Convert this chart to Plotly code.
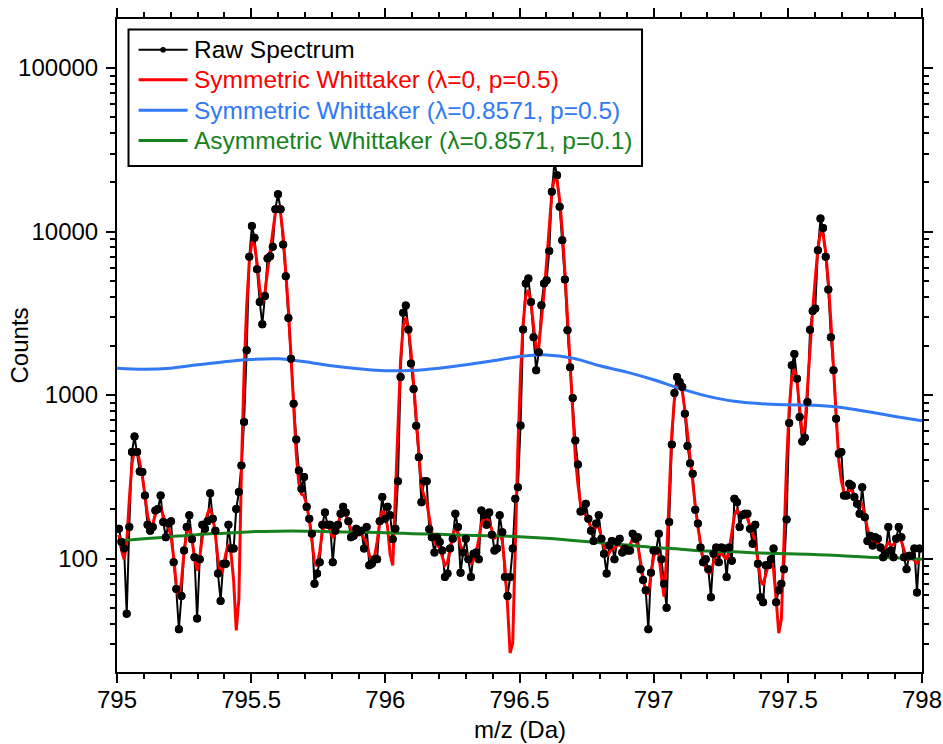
import numpy as np
import plotly.graph_objects as go

# ---- Raw spectrum: evenly sampled m/z axis, intensities in counts ----
MZ_START = 795.007
MZ_STEP = 0.00972

counts = [
    152, 126, 115, 46, 156, 448, 558, 448, 341, 338, 243, 161, 148, 156, 197, 201, 243, 167,
    135, 164, 169, 95, 65, 37, 59, 112, 156, 184, 131, 102, 43, 99, 161, 152, 169, 251,
    175, 148, 81, 55, 93, 93, 161, 115, 115, 201, 255, 371, 684, 1880, 7000, 10800, 9160, 5890,
    3710, 2710, 4040, 6840, 7070, 8060, 13700, 16900, 13700, 8340, 5330, 2960, 1670, 886, 535,
    346, 267, 315, 207, 175, 142, 70,
    81, 95, 161, 191, 161, 161, 95, 148, 161, 188, 207, 191, 169, 135, 138, 152, 145, 148,
    115, 156, 91, 93, 99, 99, 169, 238, 175, 207, 184, 131, 152, 297, 1290, 3190, 3530, 2520, 1560,
    1090, 649, 417, 221, 297, 297, 151, 135, 109, 135, 126, 112, 77, 81, 115, 132, 188, 156,
    82, 109, 132, 99, 77, 107, 109, 99, 197, 184, 161, 191, 140, 112, 115, 184, 145, 77, 59, 77,
    115, 232,
    273, 652, 2520, 4810, 5160, 3710, 2260, 1420, 1830, 3540, 4810, 5040, 7590, 17500, 26400,
    22100, 14200, 8860, 5090, 2490, 1480, 959, 528, 376, 194, 197, 216, 175, 148, 128, 164, 184,
    132, 107, 81, 120, 128, 99,
    126, 132, 109, 115, 112, 112, 142, 132, 135, 86, 74, 64, 37, 82, 112, 112, 142, 99, 70, 50,
    167, 499, 1030, 1290, 1200, 1120, 769, 488, 383, 330, 199, 164, 117, 95, 99, 86, 58, 107, 117,
    95, 117, 115, 77, 117, 97, 232, 221, 156, 184, 188, 188, 152, 123, 161, 93, 58, 54, 91, 91,
    99, 115, 54, 64, 70, 86, 173, 674, 1520, 1780, 1260, 733, 520, 548, 906, 2510, 3270, 3380,
    7690, 12000,
    10500, 7000, 4420, 2260, 1420, 717, 437, 448, 243, 243, 287, 280, 238, 216, 188, 273, 179,
    128, 138, 120, 135, 132, 117, 102, 107, 156, 112, 102, 132, 156, 135, 102, 86, 104, 104, 115,
    62, 115,
]

# ---- Smoothed / baseline curves sampled every 0.1 Da ----
curve_mz = [795.0, 795.1, 795.2, 795.3, 795.4, 795.5, 795.6, 795.7, 795.8, 795.9,
            796.0, 796.1, 796.2, 796.3, 796.4, 796.5, 796.6, 796.7, 796.8, 796.9,
            797.0, 797.1, 797.2, 797.3, 797.4, 797.5, 797.6, 797.7, 797.8, 797.9, 798.0]
sym_smooth = [1460, 1440, 1460, 1530, 1600, 1650, 1665, 1600, 1510, 1450,
              1410, 1415, 1460, 1530, 1620, 1720, 1760, 1680, 1510, 1380,
              1240, 1095, 985, 915, 885, 872, 865, 840, 790, 740, 695]
asym_baseline = [128, 132, 136, 140, 143, 146, 147, 147, 146, 145,
                 144, 142, 141, 139, 138, 136, 133, 129, 125, 121,
                 117, 114, 111, 110, 108, 107, 106, 104, 102, 101, 99]

# Light Whittaker smoothing (second-order difference penalty) of the raw counts
SMOOTH_WEIGHT = 1.0


def whittaker(y, lam):
    y = np.asarray(y, dtype=float)
    n = y.size
    d = np.diff(np.eye(n), 2, axis=0)
    return np.linalg.solve(np.eye(n) + lam * d.T @ d, y)


red_curve = np.clip(whittaker(counts, SMOOTH_WEIGHT), 1.0, None)

FONT = "Liberation Sans, Arial, Helvetica, sans-serif"
RED = "#FF0000"
BLUE = "#3179F5"
GREEN = "#17821D"

legend_entries = [
    ("Raw Spectrum", "black"),
    ("Symmetric Whittaker (λ=0, p=0.5)", RED),
    ("Symmetric Whittaker (λ=0.8571, p=0.5)", BLUE),
    ("Asymmetric Whittaker (λ=0.8571, p=0.1)", GREEN),
]

fig = go.Figure()

fig.add_trace(go.Scatter(
    x0=MZ_START, dx=MZ_STEP, y=counts, mode="lines+markers",
    line=dict(color="black", width=2), marker=dict(color="black", size=8),
    name=legend_entries[0][0]))

fig.add_trace(go.Scatter(
    x0=MZ_START, dx=MZ_STEP, y=red_curve, mode="lines",
    line=dict(color=RED, width=3), name=legend_entries[1][0]))

fig.add_trace(go.Scatter(
    x=curve_mz, y=sym_smooth, mode="lines", line=dict(color=BLUE, width=3, shape="spline"),
    name=legend_entries[2][0]))

fig.add_trace(go.Scatter(
    x=curve_mz, y=asym_baseline, mode="lines", line=dict(color=GREEN, width=3, shape="spline"),
    name=legend_entries[3][0]))

# markers of the raw spectrum kept above the smoothed line
fig.add_trace(go.Scatter(
    x0=MZ_START, dx=MZ_STEP, y=counts, mode="markers",
    marker=dict(color="black", size=8), hoverinfo="skip"))

x_major = [795, 795.5, 796, 796.5, 797, 797.5, 798]
x_labels = ["795", "795.5", "796", "796.5", "797", "797.5", "798"]
x_minor = [795.1, 795.2, 795.3, 795.4, 795.6, 795.7, 795.8, 795.9,
           796.1, 796.2, 796.3, 796.4, 796.6, 796.7, 796.8, 796.9,
           797.1, 797.2, 797.3, 797.4, 797.6, 797.7, 797.8, 797.9]
y_major = [100, 1000, 10000, 100000]
y_labels = ["100", "1000", "10000", "100000"]
y_minor = [m * 10 ** e for e in range(1, 6) for m in range(2, 10)]

axis_common = dict(
    showline=True, linecolor="black", linewidth=2, mirror="allticks",
    ticks="outside", ticklen=9, tickwidth=1.5, tickcolor="black",
    showgrid=False, zeroline=False, automargin=False,
    tickfont=dict(family=FONT, size=24, color="black"),
)
minor_common = dict(ticks="outside", ticklen=5, tickwidth=1.5, tickcolor="black", showgrid=False)

fig.update_xaxes(
    range=[795, 798], tickmode="array", tickvals=x_major, ticktext=x_labels,
    ticklabelstandoff=-4,
    minor=dict(tickmode="array", tickvals=x_minor, **minor_common), **axis_common)

fig.update_yaxes(
    type="log", range=[1.306, 5.300], tickmode="array", tickvals=y_major, ticktext=y_labels,
    ticklabelstandoff=3,
    minor=dict(tickmode="array", tickvals=y_minor, **minor_common), **axis_common)

# ---- hand-placed legend box inside the plot (paper coordinates) ----
box = dict(x0=0.0143, x1=0.6522, y0=0.7749, y1=0.9839)
line_x0, line_x1, text_x = 0.0268, 0.0877, 0.0932
row_y = [0.9530, 0.9069, 0.8603, 0.8138]

shapes = [dict(type="rect", xref="paper", yref="paper", layer="above",
               fillcolor="white", line=dict(color="black", width=2), **box)]
annotations = []
for (label, color), ry in zip(legend_entries, row_y):
    shapes.append(dict(type="line", xref="paper", yref="paper", layer="above",
                       x0=line_x0, x1=line_x1, y0=ry, y1=ry,
                       line=dict(color=color, width=3 if color != "black" else 2)))
    annotations.append(dict(text=label, x=text_x, y=ry, xref="paper", yref="paper",
                            xanchor="left", yanchor="middle", showarrow=False,
                            font=dict(family=FONT, size=24.5, color=color)))
mid_x = (line_x0 + line_x1) / 2
shapes.append(dict(type="circle", xref="paper", yref="paper", layer="above",
                   fillcolor="black", line=dict(color="black", width=0),
                   x0=mid_x - 0.0035, x1=mid_x + 0.0035,
                   y0=row_y[0] - 0.0043, y1=row_y[0] + 0.0043))

annotations += [
    dict(text="Counts", x=-0.1205, y=0.5, xref="paper", yref="paper",
         xanchor="center", yanchor="middle", textangle=-90, showarrow=False,
         font=dict(family=FONT, size=24, color="black")),
    dict(text="m/z (Da)", x=0.5, y=-0.0885, xref="paper", yref="paper",
         xanchor="center", yanchor="middle", showarrow=False,
         font=dict(family=FONT, size=24, color="black")),
]

fig.update_layout(
    width=943, height=744,
    margin=dict(l=117, r=21, t=19, b=72),
    paper_bgcolor="white", plot_bgcolor="white",
    font=dict(family=FONT, size=24, color="black"),
    showlegend=False,
    shapes=shapes,
    annotations=annotations,
)

fig.write_html("out.html")
